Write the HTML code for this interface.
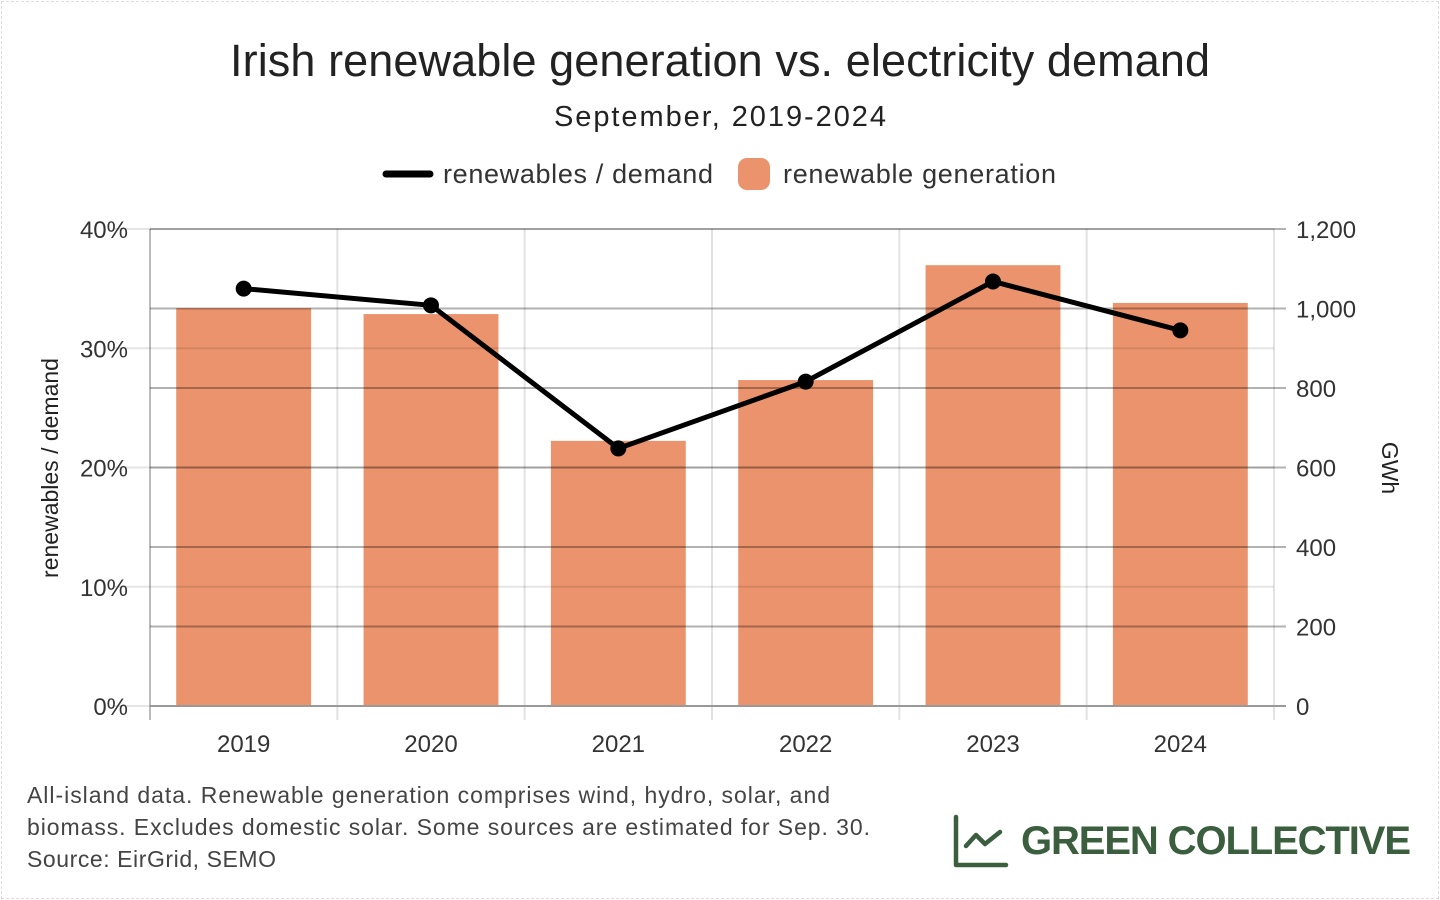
<!DOCTYPE html>
<html><head><meta charset="utf-8"><style>
body{margin:0;background:#fff;font-family:"Liberation Sans",sans-serif;}
#wrap{position:relative;width:1440px;height:900px;overflow:hidden;}
#frame{position:absolute;left:1px;top:1px;width:1436px;height:896px;border:1px dashed #ddd;}
</style></head><body>
<div id="wrap">
<div id="frame"></div>
<svg id="chart" width="1440" height="900" style="position:absolute;left:0;top:0">
<text x="720" y="76" text-anchor="middle" font-size="45" fill="#222" textLength="980">Irish renewable generation vs. electricity demand</text>
<text x="720" y="126" text-anchor="middle" font-size="29" fill="#222" textLength="332">September, 2019-2024</text>
<g>
<g><line x1="386" y1="174" x2="430" y2="174" stroke="#000" stroke-width="7" stroke-linecap="round"/><text x="443" y="183" font-size="27" fill="#333" textLength="270">renewables / demand</text></g>
<g><rect x="738" y="158" width="32" height="32" rx="9" fill="#eb936c"/><text x="783" y="183" font-size="27" fill="#333" textLength="273">renewable generation</text></g>
</g>
<text transform="translate(58,468) rotate(-90)" text-anchor="middle" font-size="23" fill="#222">renewables / demand</text>
<text transform="translate(1382,468) rotate(90)" text-anchor="middle" font-size="23" fill="#222">GWh</text>
<g id="plot"></g>
<g font-size="23" fill="#444">
<text x="27" y="803" textLength="803">All-island data. Renewable generation comprises wind, hydro, solar, and</text>
<text x="27" y="835" textLength="843">biomass. Excludes domestic solar. Some sources are estimated for Sep. 30.</text>
<text x="27" y="867" textLength="249">Source: EirGrid, SEMO</text>
</g>
<g>
<path d="M956 817 V865 H1006 M966 846 L976 835 L985 844 L1000 832" fill="none" stroke="#3b5e3e" stroke-width="4.5" stroke-linecap="round" stroke-linejoin="round"/>
<text x="1021" y="854" font-size="40" font-weight="bold" fill="#3b5e3e" textLength="390">GREEN COLLECTIVE</text>
</g>
</svg>
</div>
<script>
const categories=["2019","2020","2021","2022","2023","2024"];
const generation=[1001,986,667,820,1109,1014];
const ratio=[35.0,33.6,21.6,27.2,35.6,31.5];
const leftTicks=[0,10,20,30,40];
const rightTicks=[0,200,400,600,800,1000,1200];
const X0=150,X1=1274,Y0=706,Y1=229;
const bw=(X1-X0)/categories.length;
const xC=i=>X0+bw*(i+0.5);
const yL=v=>Y0-(v/40)*(Y0-Y1);
const yR=v=>Y0-(v/1200)*(Y0-Y1);
const NS="http://www.w3.org/2000/svg";
const g=document.getElementById('plot');
function mk(t,a,p){const e=document.createElementNS(NS,t);for(const k in a)e.setAttribute(k,a[k]);(p||g).appendChild(e);return e;}
for(let i=0;i<=categories.length;i++){const x=X0+bw*i;
const l=mk('line',{x1:x,x2:x,y1:Y1,y2:Y0+14,stroke:i==0?'#bbb':'#e2e2e2','stroke-width':2});

}
generation.forEach((v,i)=>{const w=bw*0.72;
const r=mk('rect',{x:xC(i)-w/2,y:yR(v),width:w,height:Y0-yR(v),fill:'#eb936c'});

});
leftTicks.forEach(v=>{const y=yL(v);
const l=mk('line',{x1:X0-35,x2:X1,y1:y,y2:y,stroke:'rgba(0,0,0,0.1)','stroke-width':2});


const t=mk('text',{x:128,y:y+9,'text-anchor':'end','font-size':24,fill:'#333'});t.textContent=v+'%';

});
rightTicks.forEach(v=>{const y=yR(v);
const l=mk('line',{x1:X0,x2:X1+12,y1:y,y2:y,stroke:v==0?'#999':'rgba(0,0,0,0.3)','stroke-width':2});


const t=mk('text',{x:1296,y:y+9,'font-size':24,fill:'#333'});t.textContent=v.toLocaleString('en-US');

});
categories.forEach((c,i)=>{const t=mk('text',{x:xC(i),y:752,'text-anchor':'middle','font-size':24,fill:'#333'});t.textContent=c;

});
const pl=mk('polyline',{points:ratio.map((v,i)=>xC(i)+','+yL(v)).join(' '),fill:'none',stroke:'#000','stroke-width':5,'stroke-linejoin':'round'});


ratio.forEach((v,i)=>{const c=mk('circle',{cx:xC(i),cy:yL(v),r:8,fill:'#000'});

});
</script>
</body></html>
